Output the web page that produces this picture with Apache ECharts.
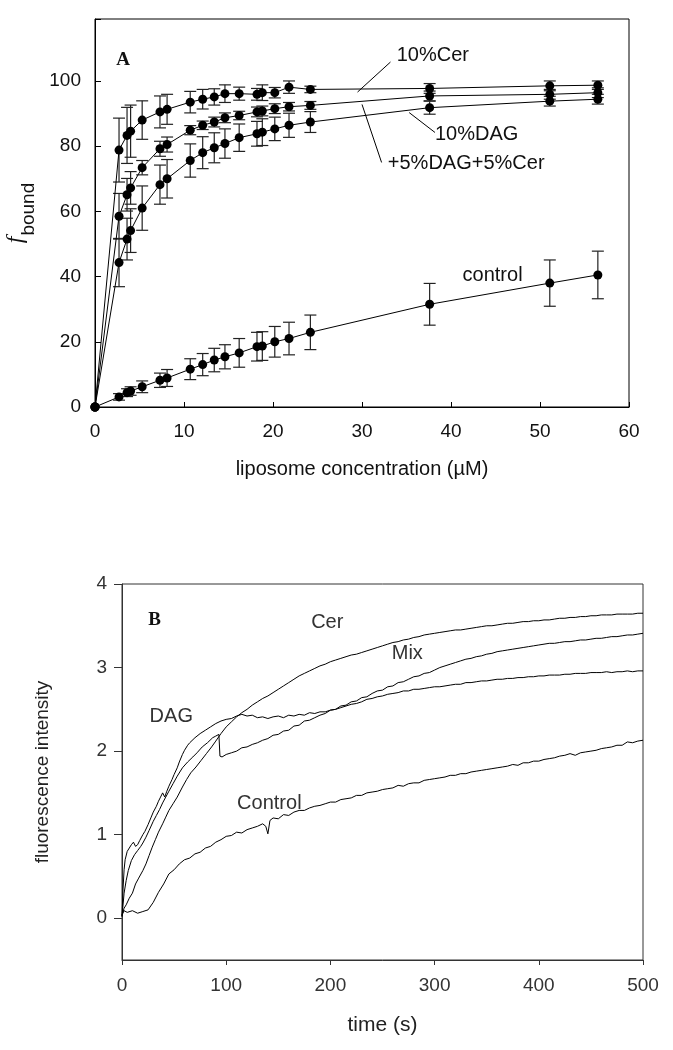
<!DOCTYPE html>
<html><head><meta charset="utf-8">
<script src="https://cdn.jsdelivr.net/npm/echarts@6/dist/echarts.min.js"></script>
<style>html,body{margin:0;padding:0;background:#fff}#c{width:673px;height:1050px}</style>
</head><body><div id="c"></div>
<script>
// ---------- Panel A data ----------
const conc = [0, 2.7, 3.6, 4.0, 5.3, 7.3, 8.1, 10.7, 12.1, 13.4, 14.6, 16.2, 18.2, 18.8, 20.2, 21.8, 24.2, 37.6, 51.1, 56.5];
const cerA    = [0, 78.8, 83.3, 84.6, 88.0, 90.5, 91.3, 93.5, 94.4, 95.1, 96.1, 96.1, 95.9, 96.4, 96.4, 98.1, 97.4, 97.7, 98.5, 98.7];
const cerAErr = [0, 9.8, 8.6, 8.0, 5.9, 4.9, 4.6, 3.3, 3.0, 2.5, 2.7, 2.0, 1.8, 2.4, 1.6, 1.9, 1.0, 1.5, 1.5, 1.3];
const mixA    = [0, 58.5, 65.1, 67.2, 73.4, 79.2, 80.5, 84.9, 86.4, 87.4, 88.7, 89.4, 90.5, 90.8, 91.5, 92.1, 92.5, 95.4, 95.9, 96.4];
const mixAErr = [0, 7.0, 5.0, 5.0, 2.2, 2.3, 2.3, 1.4, 1.3, 1.5, 1.5, 1.3, 1.5, 1.5, 1.5, 1.3, 1.2, 1.5, 1.5, 1.5];
const dagA    = [0, 44.3, 51.5, 54.1, 61.0, 68.2, 70.0, 75.6, 78.0, 79.5, 80.8, 82.6, 83.8, 84.3, 85.3, 86.4, 87.4, 91.8, 93.8, 94.4];
const dagAErr = [0, 7.4, 6.4, 6.7, 6.8, 6.0, 5.9, 5.1, 4.9, 4.6, 4.5, 4.2, 3.8, 4.1, 3.6, 3.7, 3.2, 2.0, 1.5, 1.5];
const ctrlA   = [0, 3.1, 4.4, 4.9, 6.2, 8.2, 8.9, 11.6, 13.0, 14.4, 15.4, 16.6, 18.5, 18.7, 20.0, 21.0, 22.9, 31.5, 38.0, 40.5];
const ctrlAErr= [0, 1.0, 1.2, 1.3, 1.8, 2.2, 2.6, 3.2, 3.4, 3.6, 3.7, 4.4, 4.4, 4.4, 4.7, 5.0, 5.3, 6.4, 7.1, 7.3];
const annAText = ['10%Cer', '10%DAG', '+5%DAG+5%Cer', 'control'];
const annAX = [33.9, 38.2, 32.9, 41.3];
const annAY = [107.9, 83.6, 74.7, 40.2];
const leaderA = [[33.2, 105.8, 29.5, 96.6], [38.2, 84.2, 35.3, 90.3], [32.2, 75.0, 30.0, 92.8]];

// ---------- Panel B data ----------
const ctrlT = [0,2,5,10,15,20,25,30,35,40,45,50,55,60,65,70,75,80,85,90,95,100,105,110,115,120,125,130,135,138,140,142,145,150,155,160,165,170,175,180,185,190,195,200,205,210,215,220,225,230,235,240,245,250,255,260,265,270,275,280,285,290,295,300,305,310,315,320,325,330,335,340,345,350,355,360,365,370,375,380,385,390,395,400,405,410,415,420,425,430,435,440,445,450,455,460,465,470,475,480,485,490,495,500];
const ctrlV = [0.04,0.09,0.07,0.09,0.06,0.08,0.10,0.19,0.31,0.41,0.53,0.58,0.65,0.70,0.72,0.77,0.79,0.84,0.86,0.91,0.94,0.98,0.99,1.03,1.02,1.06,1.08,1.10,1.13,1.10,1.01,1.17,
  1.20,1.19,1.24,1.23,1.27,1.29,1.29,1.32,1.34,1.35,
  1.37,1.39,1.39,1.42,1.43,1.44,1.47,1.47,1.50,1.51,
  1.52,1.54,1.55,1.56,1.59,1.58,1.61,1.62,1.62,1.65,
  1.66,1.67,1.68,1.69,1.71,1.71,1.73,1.73,1.75,1.76,
  1.77,1.78,1.79,1.80,1.81,1.82,1.84,1.83,1.86,1.86,
  1.88,1.88,1.90,1.91,1.92,1.94,1.95,1.97,1.95,1.98,
  1.99,2.00,2.01,2.03,2.04,2.05,2.07,2.07,2.11,2.10,
  2.12,2.13];

const dagT = [0,1,2,3,5,7,9,11,13,15,17,20,22,25,28,30,33,35,37,39,41,43,45,48,50,53,55,58,60,63,65,70,75,80,85,90,95,100,105,110,115,120,125,130,135,140,145,150,155,160,165,170,175,180,185,190,195,200,205,210,215,220,225,230,235,240,245,250,255,260,265,270,275,280,285,290,295,300,305,310,315,320,325,330,335,340,345,350,355,360,365,370,375,380,385,390,395,400,405,410,415,420,425,430,435,440,445,450,455,460,465,470,475,480,485,490,495,500];
const dagV = [0.02,0.35,0.58,0.70,0.80,0.84,0.88,0.91,0.86,0.88,0.93,1.00,1.04,1.12,1.21,1.27,1.34,1.40,1.45,1.50,1.45,1.52,1.58,1.66,1.72,1.80,1.87,1.96,2.01,2.07,2.10,2.16,2.21,2.25,2.29,2.33,2.36,2.38,2.39,2.42,2.44,2.42,2.43,2.40,2.41,2.39,2.41,2.42,2.40,2.43,2.42,2.44,2.43,2.46,2.45,2.47,2.47,2.49,2.50,2.52,2.54,2.56,2.57,2.59,2.62,2.63,2.65,2.66,2.68,2.69,2.70,2.72,2.72,2.74,2.74,2.75,2.76,2.77,2.77,2.78,2.79,2.80,2.80,2.82,2.82,2.83,2.84,2.84,2.85,2.86,2.86,2.87,2.87,2.88,2.88,2.89,2.89,2.90,2.90,2.91,2.91,2.91,2.92,2.92,2.93,2.93,2.93,2.94,2.94,2.94,2.95,2.94,2.95,2.95,2.96,2.95,2.96,2.96];

const cerT = [0,2,4,7,10,13,16,20,23,26,29,32,35,39,42,45,49,53,58,62,66,71,76,81,86,90,95,100,105,110,115,120,125,130,135,140,145,150,155,160,165,170,175,180,185,190,195,200,205,210,215,220,225,230,235,240,245,250,255,260,265,270,275,280,285,290,295,300,305,310,315,320,325,330,335,340,345,350,355,360,365,370,375,380,385,390,395,400,405,410,415,420,425,430,435,440,445,450,455,460,465,470,475,480,485,490,495,500];
const cerV = [0.03,0.12,0.16,0.24,0.30,0.41,0.48,0.57,0.65,0.75,0.85,0.94,1.03,1.13,1.21,1.29,1.37,1.45,1.57,1.66,1.74,1.81,1.89,1.97,2.05,2.12,2.21,2.29,2.35,2.41,2.46,2.50,2.55,2.59,2.63,2.66,2.70,2.74,2.78,2.82,2.86,2.90,2.93,2.96,2.99,3.02,3.04,3.07,3.09,3.11,3.13,3.15,3.16,3.18,3.20,3.22,3.24,3.26,3.28,3.30,3.31,3.33,3.34,3.36,3.37,3.39,3.40,3.41,3.42,3.43,3.44,3.45,3.45,3.46,3.47,3.48,3.49,3.50,3.50,3.51,3.52,3.53,3.53,3.54,3.55,3.55,3.56,3.56,3.57,3.57,3.58,3.59,3.59,3.60,3.60,3.61,3.61,3.62,3.62,3.63,3.63,3.63,3.64,3.64,3.64,3.64,3.65,3.65];

const mixT = [0,2,4,6,9,12,15,18,20,23,26,30,33,36,39,42,45,49,53,58,63,68,72,77,82,87,90,93,94,96,100,105,110,115,120,125,130,135,140,145,150,155,160,165,170,175,180,185,190,195,200,205,210,215,220,225,230,235,240,245,250,255,260,265,270,275,280,285,290,295,300,305,310,315,320,325,330,335,340,345,350,355,360,365,370,375,380,385,390,395,400,405,410,415,420,425,430,435,440,445,450,455,460,465,470,475,480,485,490,495,500];
const mixV = [0.02,0.30,0.45,0.57,0.69,0.76,0.81,0.86,0.90,0.97,1.05,1.16,1.23,1.30,1.38,1.45,1.52,1.61,1.70,1.80,1.87,1.93,1.98,2.05,2.10,2.16,2.18,2.20,1.94,1.93,1.96,1.98,2.00,2.04,2.05,2.08,2.10,2.13,2.15,
  2.19,2.20,2.24,2.25,2.30,2.31,2.36,2.37,2.40,2.43,2.45,2.49,2.50,2.54,2.55,2.59,2.60,2.64,2.65,2.69,2.72,2.73,2.77,2.78,2.82,2.83,2.86,2.89,2.90,2.93,2.94,2.97,
  3.00,3.02,3.04,3.06,3.08,3.10,3.11,3.13,3.14,3.16,3.17,3.19,3.20,3.21,3.22,3.23,3.24,3.25,3.26,3.27,3.28,3.29,3.29,3.30,3.31,3.31,3.32,3.33,3.33,3.34,3.35,3.35,3.36,3.37,3.37,3.38,3.39,3.39,3.40,3.41];

const annBText = ['Cer', 'Mix', 'DAG', 'Control'];
const annBX = [197, 273.8, 47.3, 141.4];
const annBY = [3.535, 3.17, 2.42, 1.37];

// ---------- build ----------
function zip(t, v) { const n = Math.min(t.length, v.length); const out = []; for (let i = 0; i < n; i++) out.push([t[i], v[i]]); return out; }
const FONT = '"Liberation Sans", Arial, sans-serif';
const chart = echarts.init(document.getElementById('c'), null, {renderer: 'canvas'});

function lineA(vals) {
  return {type: 'line', xAxisIndex: 0, yAxisIndex: 0, data: conc.map((c, i) => [c, vals[i]]),
    symbol: 'circle', symbolSize: 9, itemStyle: {color: '#000'}, lineStyle: {color: '#000', width: 1},
    z: 4, silent: true};
}
function errA(vals, errs) {
  const data = [];
  conc.forEach((c, i) => { if (errs[i] > 0) data.push([c, vals[i] - errs[i], vals[i] + errs[i]]); });
  return {type: 'custom', xAxisIndex: 0, yAxisIndex: 0, silent: true, z: 3, data,
    encode: {x: 0, y: [1, 2]},
    renderItem(params, api) {
      const x = api.value(0);
      const lo = api.coord([x, api.value(1)]), hi = api.coord([x, api.value(2)]);
      const w = 6, st = {stroke: '#222', lineWidth: 1.2};
      return {type: 'group', children: [
        {type: 'line', shape: {x1: lo[0], y1: lo[1], x2: hi[0], y2: hi[1]}, style: st},
        {type: 'line', shape: {x1: lo[0] - w, y1: lo[1], x2: lo[0] + w, y2: lo[1]}, style: st},
        {type: 'line', shape: {x1: hi[0] - w, y1: hi[1], x2: hi[0] + w, y2: hi[1]}, style: st}
      ]};
    }};
}
function lineB(t, v) {
  return {type: 'line', xAxisIndex: 1, yAxisIndex: 1, data: zip(t, v), showSymbol: false, symbol: 'none',
    lineStyle: {color: '#000', width: 1}, silent: true, z: 3};
}

const labelA = {color: '#111', fontSize: 19, fontFamily: FONT};
const labelB = {color: '#333', fontSize: 19, fontFamily: FONT};
const hidden = {show: false};

const option = {
  animation: false,
  backgroundColor: '#fff',
  grid: [
    {left: 95, right: 44, top: 19, bottom: 643, show: true, borderColor: '#000', borderWidth: 1, containLabel: false, outerBoundsMode: 'none'},
    {left: 122, right: 30, top: 584, bottom: 90, show: true, borderColor: '#333', borderWidth: 1, containLabel: false, outerBoundsMode: 'none'},
    {left: 122, right: 30, top: 584, bottom: 132, show: false, containLabel: false, outerBoundsMode: 'none'}
  ],
  xAxis: [
    {gridIndex: 0, type: 'value', min: 0, max: 60, interval: 10,
      axisLine: {onZero: false, lineStyle: {color: '#000', width: 1}}, axisTick: {inside: true, length: 5, lineStyle: {color: '#000'}},
      axisLabel: Object.assign({margin: 15}, labelA), splitLine: hidden,
      name: 'liposome concentration (\u00b5M)', nameLocation: 'middle', nameGap: 52,
      nameTextStyle: {color: '#111', fontSize: 20, fontFamily: FONT}},
    {gridIndex: 1, type: 'value', min: 0, max: 500, interval: 100,
      axisLine: {onZero: false, lineStyle: {color: '#333', width: 1}}, axisTick: {inside: false, length: 5, lineStyle: {color: '#333'}},
      axisLabel: Object.assign({margin: 16}, labelB), splitLine: hidden,
      name: 'time (s)', nameLocation: 'middle', nameGap: 55,
      nameTextStyle: {color: '#222', fontSize: 21, fontFamily: FONT}},
    {gridIndex: 2, type: 'value', min: 0, max: 500, show: false,
      axisLine: {show: false, onZero: false}, axisTick: hidden, axisLabel: hidden, splitLine: hidden}
  ],
  yAxis: [
    {gridIndex: 0, type: 'value', min: 0, max: 119, interval: 20,
      axisLine: {onZero: false, lineStyle: {color: '#000', width: 1}}, axisTick: {inside: true, length: 6, lineStyle: {color: '#000'}},
      axisLabel: Object.assign({margin: 14, formatter: v => (v % 20 === 0 ? String(v) : '')}, labelA), splitLine: hidden,
      name: '{f|f}{b|bound}', nameLocation: 'middle', nameGap: 57,
      nameTextStyle: {rich: {
        f: {fontFamily: '"Liberation Serif", serif', fontStyle: 'italic', fontSize: 24, color: '#111', lineHeight: 34, verticalAlign: 'top'},
        b: {fontFamily: FONT, fontSize: 19, color: '#111', lineHeight: 34, verticalAlign: 'bottom', padding: [0, 0, 0, 1]}
      }}},
    {gridIndex: 1, type: 'value', min: -0.5, max: 4, interval: 0.5,
      axisLine: {onZero: false, lineStyle: {color: '#333', width: 1}}, axisTick: hidden, axisLabel: hidden, splitLine: hidden,
      name: 'fluorescence intensity', nameLocation: 'middle', nameGap: 70,
      nameTextStyle: {color: '#222', fontSize: 19, fontFamily: FONT}},
    {gridIndex: 2, type: 'value', min: 0, max: 4, interval: 1,
      axisLine: {show: false, onZero: false}, axisTick: {inside: false, length: 8, lineStyle: {color: '#333'}},
      axisLabel: Object.assign({margin: 15}, labelB), splitLine: hidden}
  ],
  series: [
    errA(cerA, cerAErr), errA(mixA, mixAErr), errA(dagA, dagAErr), errA(ctrlA, ctrlAErr),
    lineA(cerA), lineA(mixA), lineA(dagA), lineA(ctrlA),
    lineB(ctrlT, ctrlV), lineB(dagT, dagV), lineB(cerT, cerV), lineB(mixT, mixV)
  ]
};
chart.setOption(option);

// annotations placed through the axes' own coordinate conversion
const g = [];
function px(grid, x, y) { return chart.convertToPixel({gridIndex: grid}, [x, y]); }
annAText.forEach((t, i) => {
  const p = px(0, annAX[i], annAY[i]);
  g.push({type: 'text', x: p[0], y: p[1], silent: true, style: {text: t, fill: '#111', font: '20px ' + FONT, align: 'left', verticalAlign: 'middle'}});
});
leaderA.forEach(l => {
  const a = px(0, l[0], l[1]), b = px(0, l[2], l[3]);
  g.push({type: 'line', silent: true, shape: {x1: a[0], y1: a[1], x2: b[0], y2: b[1]}, style: {stroke: '#000', lineWidth: 1}});
});
annBText.forEach((t, i) => {
  const p = px(1, annBX[i], annBY[i]);
  g.push({type: 'text', x: p[0], y: p[1], silent: true, style: {text: t, fill: '#333', font: '20px ' + FONT, align: 'center', verticalAlign: 'middle'}});
});
const pA = px(0, 2.4, 106.4), pB = px(1, 25.2, 3.57);
g.push({type: 'text', x: pA[0], y: pA[1], silent: true, style: {text: 'A', fill: '#111', font: 'bold 19px "Liberation Serif", serif', align: 'left', verticalAlign: 'middle'}});
g.push({type: 'text', x: pB[0], y: pB[1], silent: true, style: {text: 'B', fill: '#111', font: 'bold 19px "Liberation Serif", serif', align: 'left', verticalAlign: 'middle'}});
chart.setOption({graphic: g});
</script>
</body></html>
